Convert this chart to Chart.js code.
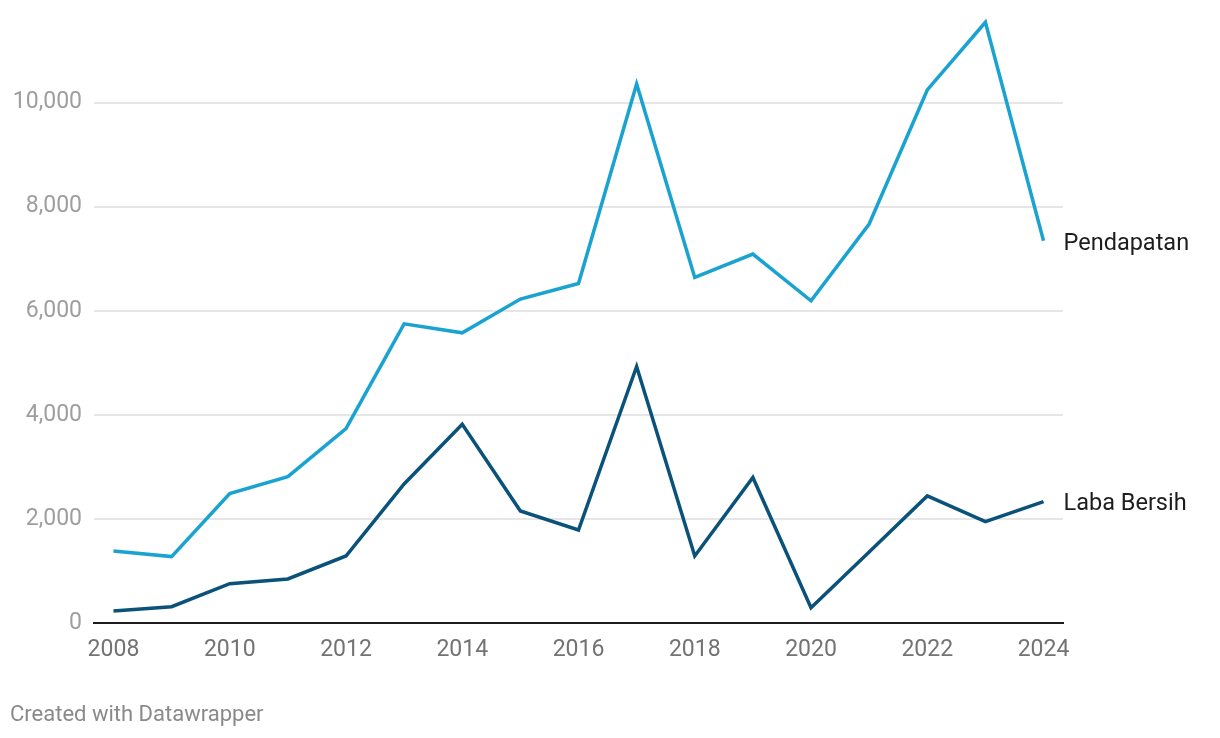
<!DOCTYPE html>
<html>
<head>
<meta charset="utf-8">
<script src="https://cdn.jsdelivr.net/npm/chart.js@4/dist/chart.umd.min.js"></script>
<style>
    html, body { margin: 0; padding: 0; background: #fff; }
    #wrap { position: relative; width: 1220px; height: 738px; }
    #credit {
        position: absolute; left: 10px; top: 701px;
        font-family: Roboto, sans-serif; font-size: 22px; color: #8a8a8a;
    }
</style>
</head>
<body>
<div id="wrap">
    <canvas id="chart" width="1220" height="738"></canvas>
    <div id="credit">Created with Datawrapper</div>
</div>
<script>
var years = [2008, 2009, 2010, 2011, 2012, 2013, 2014, 2015, 2016, 2017, 2018, 2019, 2020, 2021, 2022, 2023, 2024];
var pendapatan = [1385, 1276, 2487, 2814, 3737, 5750, 5577, 6225, 6525, 10359, 6641, 7090, 6192, 7667, 10244, 11545, 7346];
var labaBersih = [231, 314, 756, 846, 1288, 2673, 3821, 2154, 1788, 4929, 1288, 2795, 295, 1365, 2442, 1949, 2333];
var seriesNames = ['Pendapatan', 'Laba Bersih'];
var xTicks = [2008, 2010, 2012, 2014, 2016, 2018, 2020, 2022, 2024];
var yTicks = [0, 2000, 4000, 6000, 8000, 10000];

function toPoints(values) {
    return values.map(function (v, i) { return { x: years[i], y: v }; });
}

// draws the series name right of the last point of each line
var endLabels = {
    id: 'endLabels',
    afterDatasetsDraw: function (chart) {
        var ctx = chart.ctx;
        ctx.save();
        ctx.font = '23.5px Roboto';
        ctx.fillStyle = '#1d1d1d';
        ctx.textAlign = 'left';
        ctx.textBaseline = 'middle';
        chart.data.datasets.forEach(function (ds, i) {
            var meta = chart.getDatasetMeta(i);
            var last = meta.data[meta.data.length - 1];
            ctx.fillText(ds.label, last.x + 20, last.y + 3);
        });
        ctx.restore();
    }
};

const canvas = document.getElementById('chart');

const data = {
    datasets: [
        {
            label: seriesNames[0],
            data: toPoints(pendapatan),
            borderColor: '#1aa3d0',
            borderWidth: 3.5,
            pointRadius: 0,
            tension: 0,
            fill: false
        },
        {
            label: seriesNames[1],
            data: toPoints(labaBersih),
            borderColor: '#0a5279',
            borderWidth: 3.5,
            pointRadius: 0,
            tension: 0,
            fill: false
        }
    ]
};

const config = {
    type: 'line',
    data: data,
    options: {
        responsive: false,
        animation: false,
        layout: {
            padding: { left: 0, top: 9, right: 157, bottom: 65 }
        },
        scales: {
            x: {
                type: 'linear',
                min: years[0] - 0.335,
                max: years[years.length - 1] + 0.335,
                afterBuildTicks: function (scale) {
                    scale.ticks = xTicks.map(function (v) { return { value: v }; });
                },
                afterFit: function (scale) {
                    scale.height = 50;
                    scale.paddingLeft = 0;
                    scale.paddingRight = 0;
                },
                grid: { display: false, drawTicks: false },
                border: { display: true, color: '#1d1d1d', width: 2 },
                ticks: {
                    padding: 13,
                    maxRotation: 0,
                    color: '#737373',
                    font: { family: 'Roboto', size: 23 },
                    callback: function (value) { return String(value); }
                }
            },
            y: {
                min: 0,
                max: 11800,
                afterBuildTicks: function (scale) {
                    scale.ticks = yTicks.map(function (v) { return { value: v }; });
                },
                afterFit: function (scale) {
                    scale.width = 94;
                    scale.paddingTop = 0;
                    scale.paddingBottom = 0;
                },
                grid: { color: '#e6e6e6', lineWidth: 2, drawTicks: false },
                border: { display: false },
                ticks: {
                    padding: 12,
                    color: '#9e9e9e',
                    font: { family: 'Roboto', size: 23 },
                    callback: function (value) { return value.toLocaleString('en-US'); }
                }
            }
        },
        plugins: {
            legend: { display: false },
            tooltip: { enabled: false }
        }
    },
    plugins: [endLabels]
};

const jsChart = new Chart(canvas, config);
</script>
</body>
</html>
